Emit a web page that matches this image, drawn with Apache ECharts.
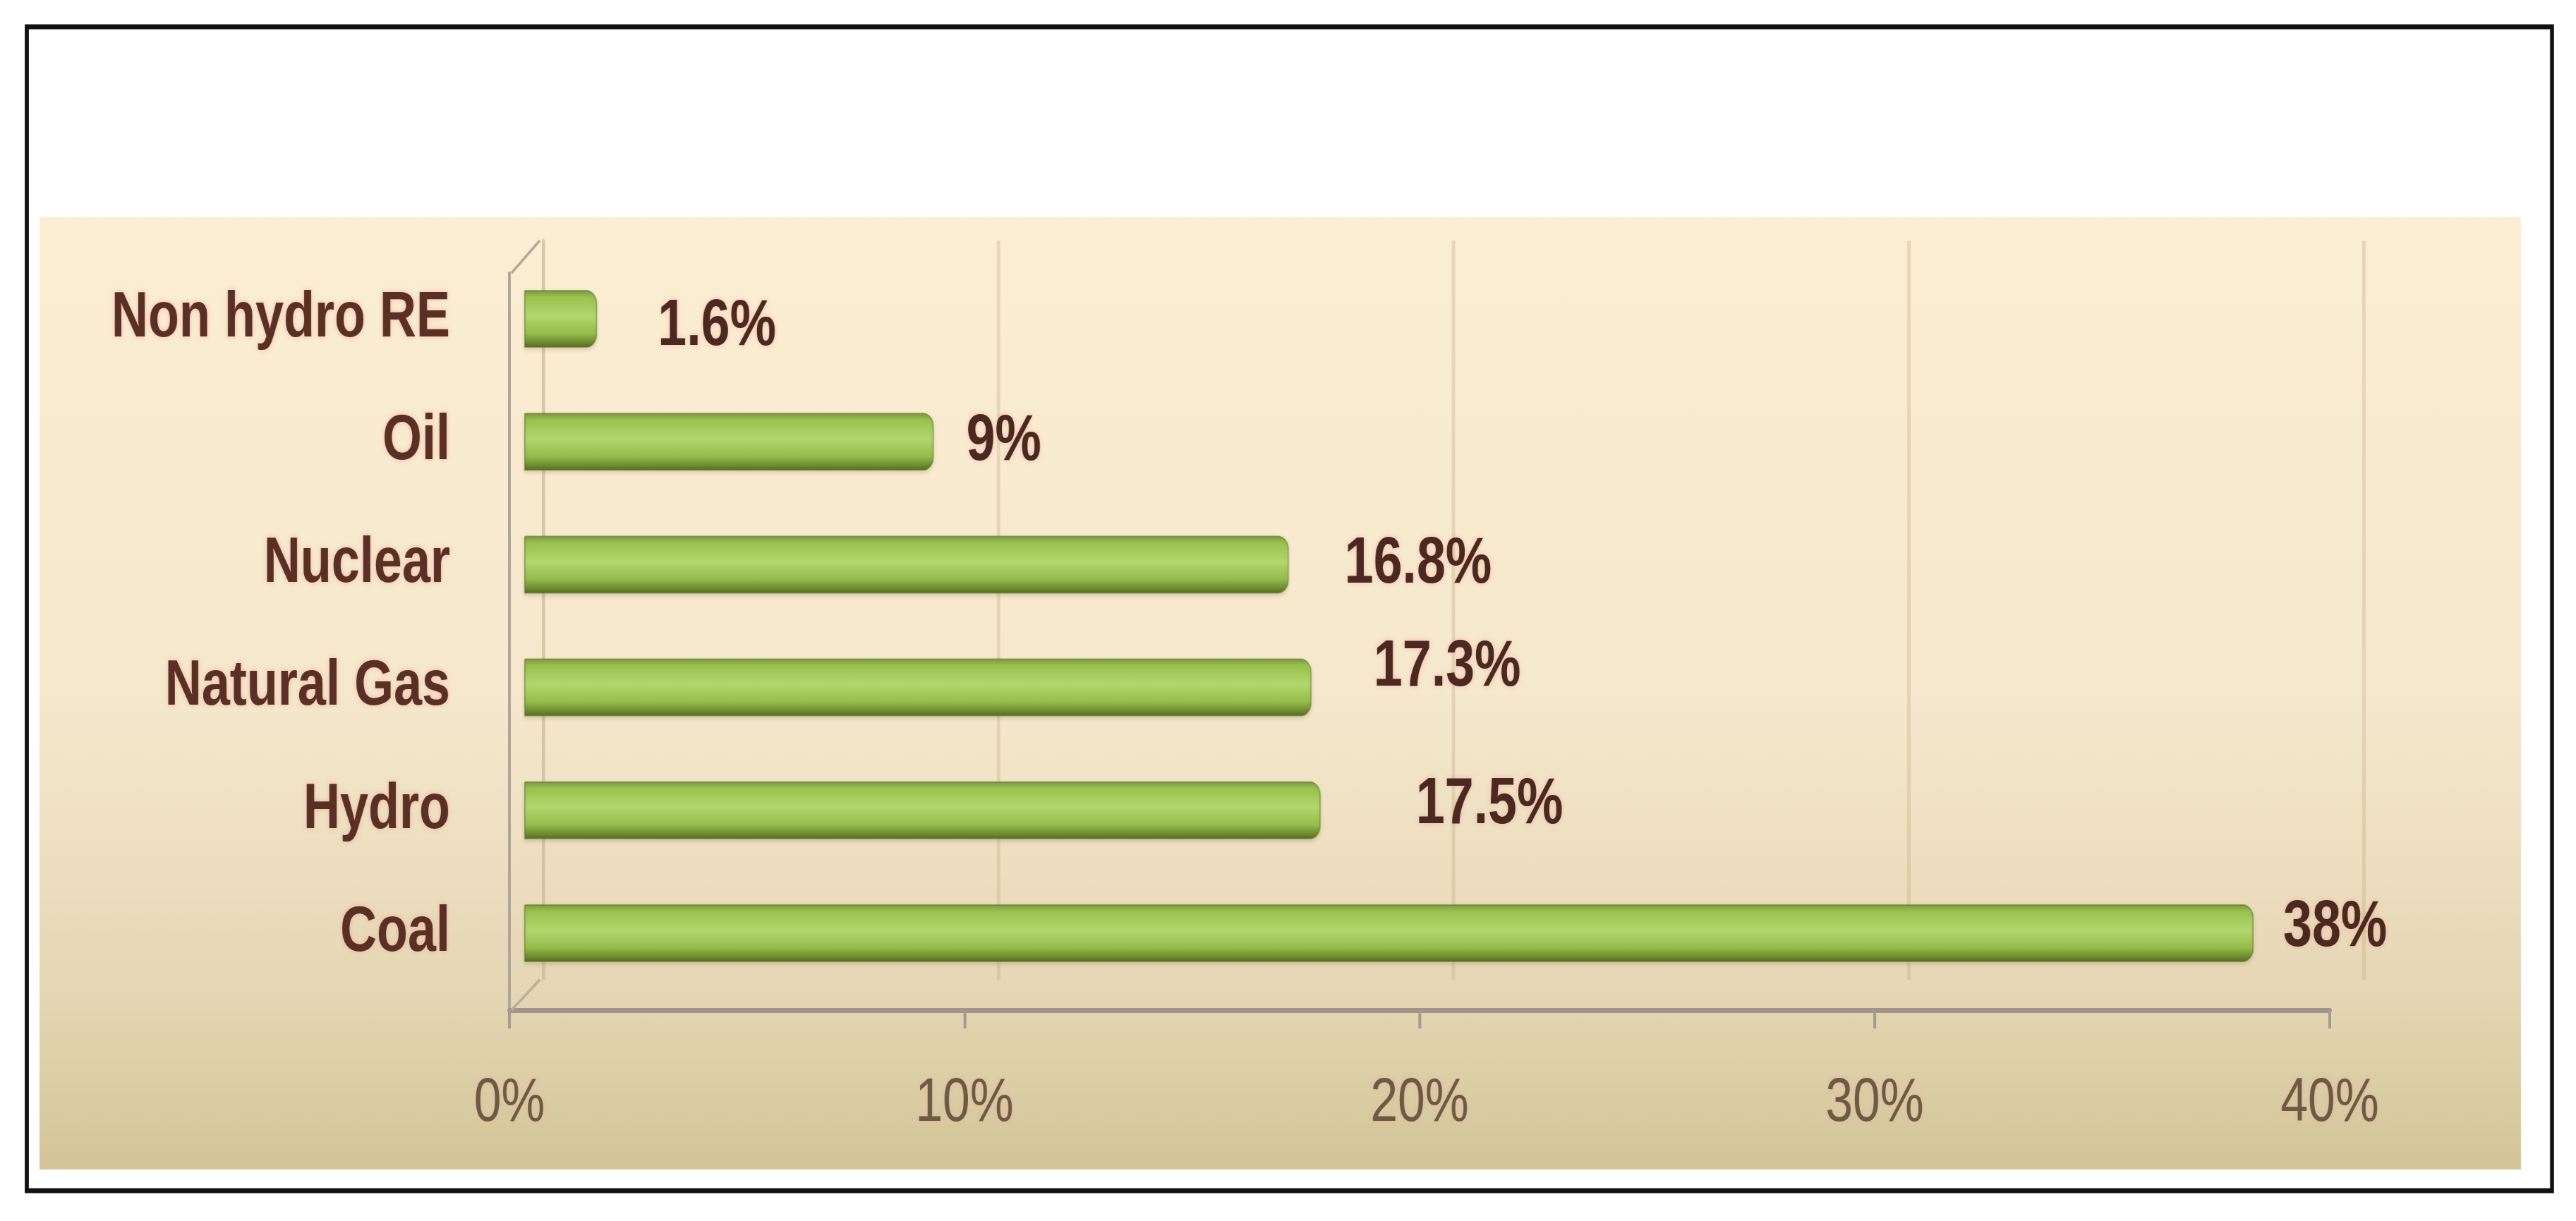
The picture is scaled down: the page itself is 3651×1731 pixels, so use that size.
<!DOCTYPE html>
<html>
<head>
<meta charset="utf-8">
<title>Share of electricity generation</title>
<script src="https://cdn.jsdelivr.net/npm/echarts/dist/echarts.min.js"></script>
<style>
  html, body { margin: 0; padding: 0; background: #fff; overflow: hidden; }
  #wrap { width: 3651px; height: 1731px; overflow: hidden; }
  /* the original uses a narrow font; no condensed face is installed, so squeeze the canvas */
  #chart { height: 1731px; transform-origin: 0 0; }
</style>
</head>
<body>
<div id="wrap"><div id="chart"></div></div>
<script>
'use strict';
// data
var categories = ['Coal', 'Hydro', 'Natural Gas', 'Nuclear', 'Oil', 'Non hydro RE'];
var shares = [38, 17.5, 17.3, 16.8, 9, 1.6];
var shareLabels = ['38%', '17.5%', '17.3%', '16.8%', '9%', '1.6%'];
var axisMax = 40;
var axisStep = 10;

// the value labels were hand placed in the original, keep their nudges apart
var labelNudge = [[42, -7], [135, -7], [88, -28], [79, 0], [46, 0], [86, 12]];

var K = 0.8;
function X(px) { return px / K; }

var el = document.getElementById('chart');
el.style.width = Math.round(X(3651)) + 'px';
el.style.transform = 'scaleX(' + K + ')';
var chart = echarts.init(el);

var font = '"Liberation Sans", Arial, sans-serif';
var plotW = 2580;
// front frame (axes), back wall (gridlines) and the bars in the middle of the depth
var front = { left: 722, top: 387, bottom: 1432 };
var back = { left: 770, top: 341, bottom: 1389 };
var mid = { left: 743, top: 365, bottom: 1410 };

function grid(g) {
    return { left: X(g.left), top: g.top, width: X(plotW), height: g.bottom - g.top, containLabel: false };
}

var barGradient = new echarts.graphic.LinearGradient(0, 0, 0, 1, [
    { offset: 0, color: '#7C9942' },
    { offset: 0.12, color: '#99C24E' },
    { offset: 0.45, color: '#B2D76D' },
    { offset: 0.75, color: '#96BD4B' },
    { offset: 0.92, color: '#6A882D' },
    { offset: 1, color: '#536B20' }
]);

var option = {
    animation: false,
    backgroundColor: '#ffffff',
    graphic: [
        {
            type: 'rect', z: -100,
            shape: { x: X(56), y: 308, width: X(3517), height: 1350 },
            style: {
                fill: new echarts.graphic.LinearGradient(0, 0, 0, 1, [
                    { offset: 0, color: '#FCEED3' },
                    { offset: 0.5, color: '#F6E8CD' },
                    { offset: 0.8, color: '#E6D8B5' },
                    { offset: 1, color: '#D3C598' }
                ])
            }
        },
        {
            type: 'rect', z: 100,
            shape: { x: X(38), y: 38, width: X(3579), height: 1650 },
            style: { fill: 'none', stroke: '#111', lineWidth: 7 }
        },
        // 3d depth edges of the frame
        {
            type: 'line', z: 10,
            shape: { x1: X(front.left + 3), y1: front.top, x2: X(back.left - 5), y2: back.top },
            style: { stroke: '#B4A998', lineWidth: 4 }
        },
        {
            type: 'line', z: 10,
            shape: { x1: X(front.left + 3), y1: front.bottom, x2: X(back.left - 5), y2: back.bottom },
            style: { stroke: '#B8AE9C', lineWidth: 4 }
        }
    ],
    grid: [grid(back), grid(front), grid(mid)],
    xAxis: [
        {
            gridIndex: 0, type: 'value', min: 0, max: axisMax, interval: axisStep,
            axisLine: { show: false }, axisTick: { show: false }, axisLabel: { show: false },
            splitLine: { show: true, lineStyle: { color: 'rgba(190,165,120,0.3)', width: X(5) } }
        },
        {
            gridIndex: 1, type: 'value', min: 0, max: axisMax, interval: axisStep,
            axisLine: { show: true, lineStyle: { color: '#9F958A', width: 7 } },
            axisTick: { show: true, length: 26, lineStyle: { color: '#A49A8E', width: X(4) } },
            splitLine: { show: false },
            axisLabel: {
                show: true, margin: 90, formatter: '{value}%',
                fontFamily: font, fontSize: 87, color: '#6B5A44',
                textShadowColor: 'rgba(235,170,150,0.6)', textShadowBlur: 8
            }
        },
        { gridIndex: 2, type: 'value', min: 0, max: axisMax, show: false }
    ],
    yAxis: [
        {
            gridIndex: 0, type: 'value', min: 0, max: 1,
            axisLine: { show: true, lineStyle: { color: 'rgba(200,185,160,0.5)', width: X(4) } },
            axisTick: { show: false }, axisLabel: { show: false }, splitLine: { show: false }
        },
        {
            gridIndex: 1, type: 'value', min: 0, max: 1,
            axisLine: { show: true, lineStyle: { color: '#AFA599', width: X(4) } },
            axisTick: { show: false }, axisLabel: { show: false }, splitLine: { show: false }
        },
        {
            gridIndex: 2, type: 'category', data: categories,
            axisLine: { show: false }, axisTick: { show: false }, splitLine: { show: false },
            axisLabel: {
                margin: X(105), fontFamily: font, fontWeight: 'bold', fontSize: 90, color: '#5A3024',
                padding: [16, 0, 0, 0],
                textShadowColor: 'rgba(230,150,130,0.55)', textShadowBlur: 8
            }
        }
    ],
    series: [{
        type: 'bar',
        xAxisIndex: 2,
        yAxisIndex: 2,
        barWidth: 82,
        data: shares.map(function (v, i) {
            return {
                value: v,
                label: { offset: [X(labelNudge[i][0]), labelNudge[i][1]], formatter: shareLabels[i] }
            };
        }),
        itemStyle: {
            color: barGradient,
            borderRadius: [0, 18, 18, 0],
            borderColor: 'rgba(90,115,40,0.55)',
            borderWidth: 2,
            shadowColor: 'rgba(120,100,60,0.25)',
            shadowBlur: 6,
            shadowOffsetY: 3
        },
        label: {
            show: true, position: 'right', distance: 0,
            fontFamily: font, fontWeight: 'bold', fontSize: 92, color: '#4C2920',
            textShadowColor: 'rgba(230,150,130,0.5)', textShadowBlur: 8
        }
    }]
};

chart.setOption(option);
</script>
</body>
</html>
